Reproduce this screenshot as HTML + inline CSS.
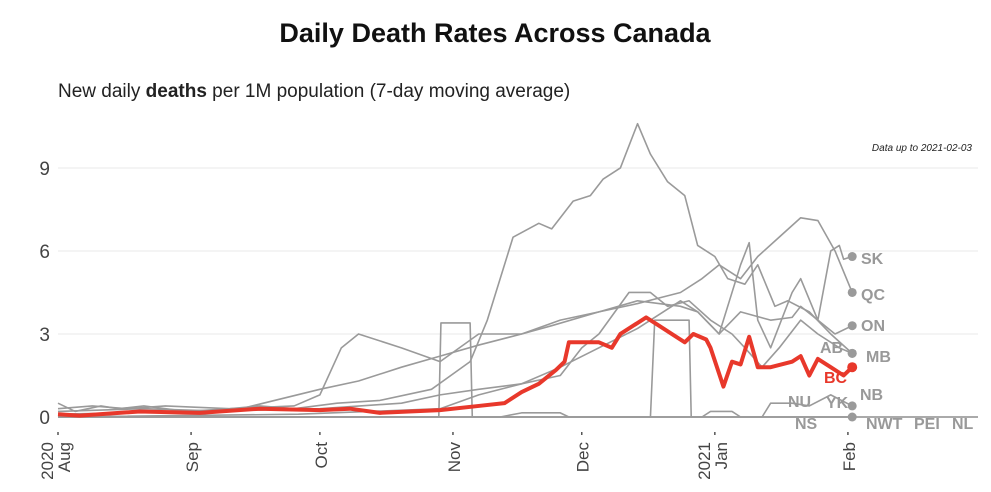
<!DOCTYPE html>
<html><head><meta charset="utf-8"><style>
body{margin:0;background:#fff;width:991px;height:487px;overflow:hidden;font-family:"Liberation Sans",sans-serif}
</style></head><body>
<svg id="chart" width="991" height="487" xmlns="http://www.w3.org/2000/svg">
<text x="495" y="42" text-anchor="middle" font-size="27" font-weight="bold" fill="#111">Daily Death Rates Across Canada</text>
<text x="58" y="97" font-size="19" fill="#222">New daily <tspan font-weight="bold">deaths</tspan> per 1M population (7-day  moving average)</text>
<text x="972" y="151" text-anchor="end" font-size="10" font-style="italic" fill="#222">Data up to 2021-02-03</text>
<g id="grid"></g><g id="lines"></g><g id="labels"></g>
</svg>
<script>
const yTicks=[0,3,6,9];
const monthDays=[0,31,61,92,122,153,184];
const monthLabels=["Aug","Sep","Oct","Nov","Dec","Jan","Feb"];
const yearLabels=["2020","","","","","2021",""];
// series: [x-day, value] pairs
const mbDays=[0,4,10,14,20,30,40,47,55,65,75,87,96,100,106,112,115,120,124,127,131,135,138,142,146,149,153,156,160,163,167,170,175,180,185];
const mbVals=[0.5,0.2,0.4,0.3,0.4,0.2,0.3,0.4,0.3,0.5,0.6,1.0,2.0,3.5,6.5,7.0,6.8,7.8,8.0,8.6,9.0,10.6,9.5,8.5,8.0,6.2,5.8,5.0,4.8,5.5,4.0,4.2,3.8,3.0,2.3];
const qcDays=[0,8,16,25,40,55,61,66,70,80,89,98,108,115,126,135,140,145,150,154,159,163,168,173,177,181,185];
const qcVals=[0.3,0.4,0.3,0.4,0.3,0.4,0.8,2.5,3.0,2.5,2.0,3.0,3.0,3.3,3.8,4.1,4.3,4.5,5.0,5.5,5.0,5.8,6.5,7.2,7.1,6.0,4.5];
const skDays=[0,56,89,98,108,117,126,135,145,149,154,159,161,163,166,171,173,177,180,182,183,185];
const skVals=[0,0.1,0.3,0.8,1.2,1.8,2.5,3.2,4.2,3.8,3.0,5.5,6.3,3.5,2.5,4.5,5.0,3.5,6.0,6.2,5.7,5.8];
const onDays=[0,20,40,61,70,80,89,98,108,117,126,135,145,149,154,159,166,171,173,177,181,185];
const onVals=[0.2,0.3,0.2,1.0,1.3,1.8,2.2,2.6,3.0,3.5,3.8,4.2,4.0,3.8,3.0,3.8,3.5,3.6,4.0,3.5,3.0,3.3];
const abDays=[0,61,80,89,98,108,117,122,126,133,138,142,147,152,157,160,164,168,173,177,182,185];
const abVals=[0.1,0.3,0.5,0.8,1.0,1.2,1.5,2.5,3.0,4.5,4.5,4.0,4.2,3.5,3.0,2.5,1.8,2.5,3.5,3.0,2.5,2.3];
const nbDays=[0,88.7,89.2,96,96.5,138,139,147,147.5,164,166,171,175,180,185];
const nbVals=[0,0,3.4,3.4,0,0,3.5,3.5,0,0,0.5,0.5,0.4,0.8,0.4];
const nsDays=[0,103,108,117,119,150,152,157,159,185];
const nsVals=[0,0,0.15,0.15,0,0,0.2,0.2,0,0];
const bcDays=[0,5,19,33,47,61,68,75,89,98,104,108,112,116,118,119,124,126,129,131,137,140,144,146,148,151,152,155,157,159,161,163,166,171,173,175,177,180,183,185];
const bcVals=[0.1,0.05,0.2,0.15,0.3,0.25,0.3,0.15,0.25,0.4,0.5,0.9,1.2,1.7,2.0,2.7,2.7,2.7,2.5,3.0,3.6,3.3,2.9,2.7,3.0,2.8,2.5,1.1,2.0,1.9,2.9,1.8,1.8,2.0,2.2,1.5,2.1,1.8,1.5,1.8];
const X=d=>58+d*4.293, Y=v=>417-v*27.67;
const ns="http://www.w3.org/2000/svg";
function mk(t,a,p){const e=document.createElementNS(ns,t);for(const k in a)e.setAttribute(k,a[k]);p.appendChild(e);return e;}
const grid=document.getElementById('grid'),lines=document.getElementById('lines'),labels=document.getElementById('labels');
yTicks.forEach(v=>{
 const l=mk('line',{x1:58,x2:978,y1:Y(v),y2:Y(v),stroke:v===0?'#aaa':'#e8e8e8','stroke-width':v===0?2:1},grid);
 
 
 const t=mk('text',{x:50,y:Y(v)+7,'text-anchor':'end','font-size':19,fill:'#444'},grid);t.textContent=v;
 
 
});
monthDays.forEach((d,i)=>{
 const x=X(d);
 const tk=mk('line',{x1:x,x2:x,y1:432,y2:435,stroke:'#555','stroke-width':1.5},grid);
 
 
 const t=mk('text',{transform:`translate(${x+7},442) rotate(-90)`,'text-anchor':'end','font-size':17,fill:'#444'},grid);
 
 
 if(yearLabels[i]){const a=mk('tspan',{x:0,dy:-12},t);a.textContent=yearLabels[i];const b=mk('tspan',{x:0,dy:17},t);b.textContent=monthLabels[i];}
 else t.textContent=monthLabels[i];
});
const series=[["ns",nsDays,nsVals],["nb",nbDays,nbVals],["ab",abDays,abVals],["on",onDays,onVals],["sk",skDays,skVals],["qc",qcDays,qcVals],["mb",mbDays,mbVals]];
function draw(name,ds,vs,col,w){
 const p=mk('polyline',{points:ds.map((d,i)=>X(d)+','+Y(vs[i])).join(' '),fill:'none',stroke:col,'stroke-width':w,'stroke-linejoin':'round'},lines);
 
 
 const c=mk('circle',{cx:X(ds[ds.length-1]),cy:Y(vs[vs.length-1]),r:w>2?5:4.5,fill:col},lines);
 
 
}
series.forEach(s=>draw(s[0],s[1],s[2],'#9a9a9a',1.6));
draw('bc',bcDays,bcVals,'#e8382b',4);
const lab=[["SK",861,264,"#999"],["QC",861,300,"#999"],["ON",861,331,"#999"],["AB",820,353,"#999"],["MB",866,362,"#999"],["BC",824,383,"#e8382b"],["NB",860,400,"#999"],["NU",788,407,"#999"],["YK",826,408,"#999"],["NS",795,429,"#999"],["NWT",866,429,"#999"],["PEI",914,429,"#999"],["NL",952,429,"#999"]];
lab.forEach(l=>{const t=mk('text',{x:l[1],y:l[2],'font-size':16,'font-weight':'bold',fill:l[3]},labels);t.textContent=l[0];
 
 });
</script>
</body></html>
